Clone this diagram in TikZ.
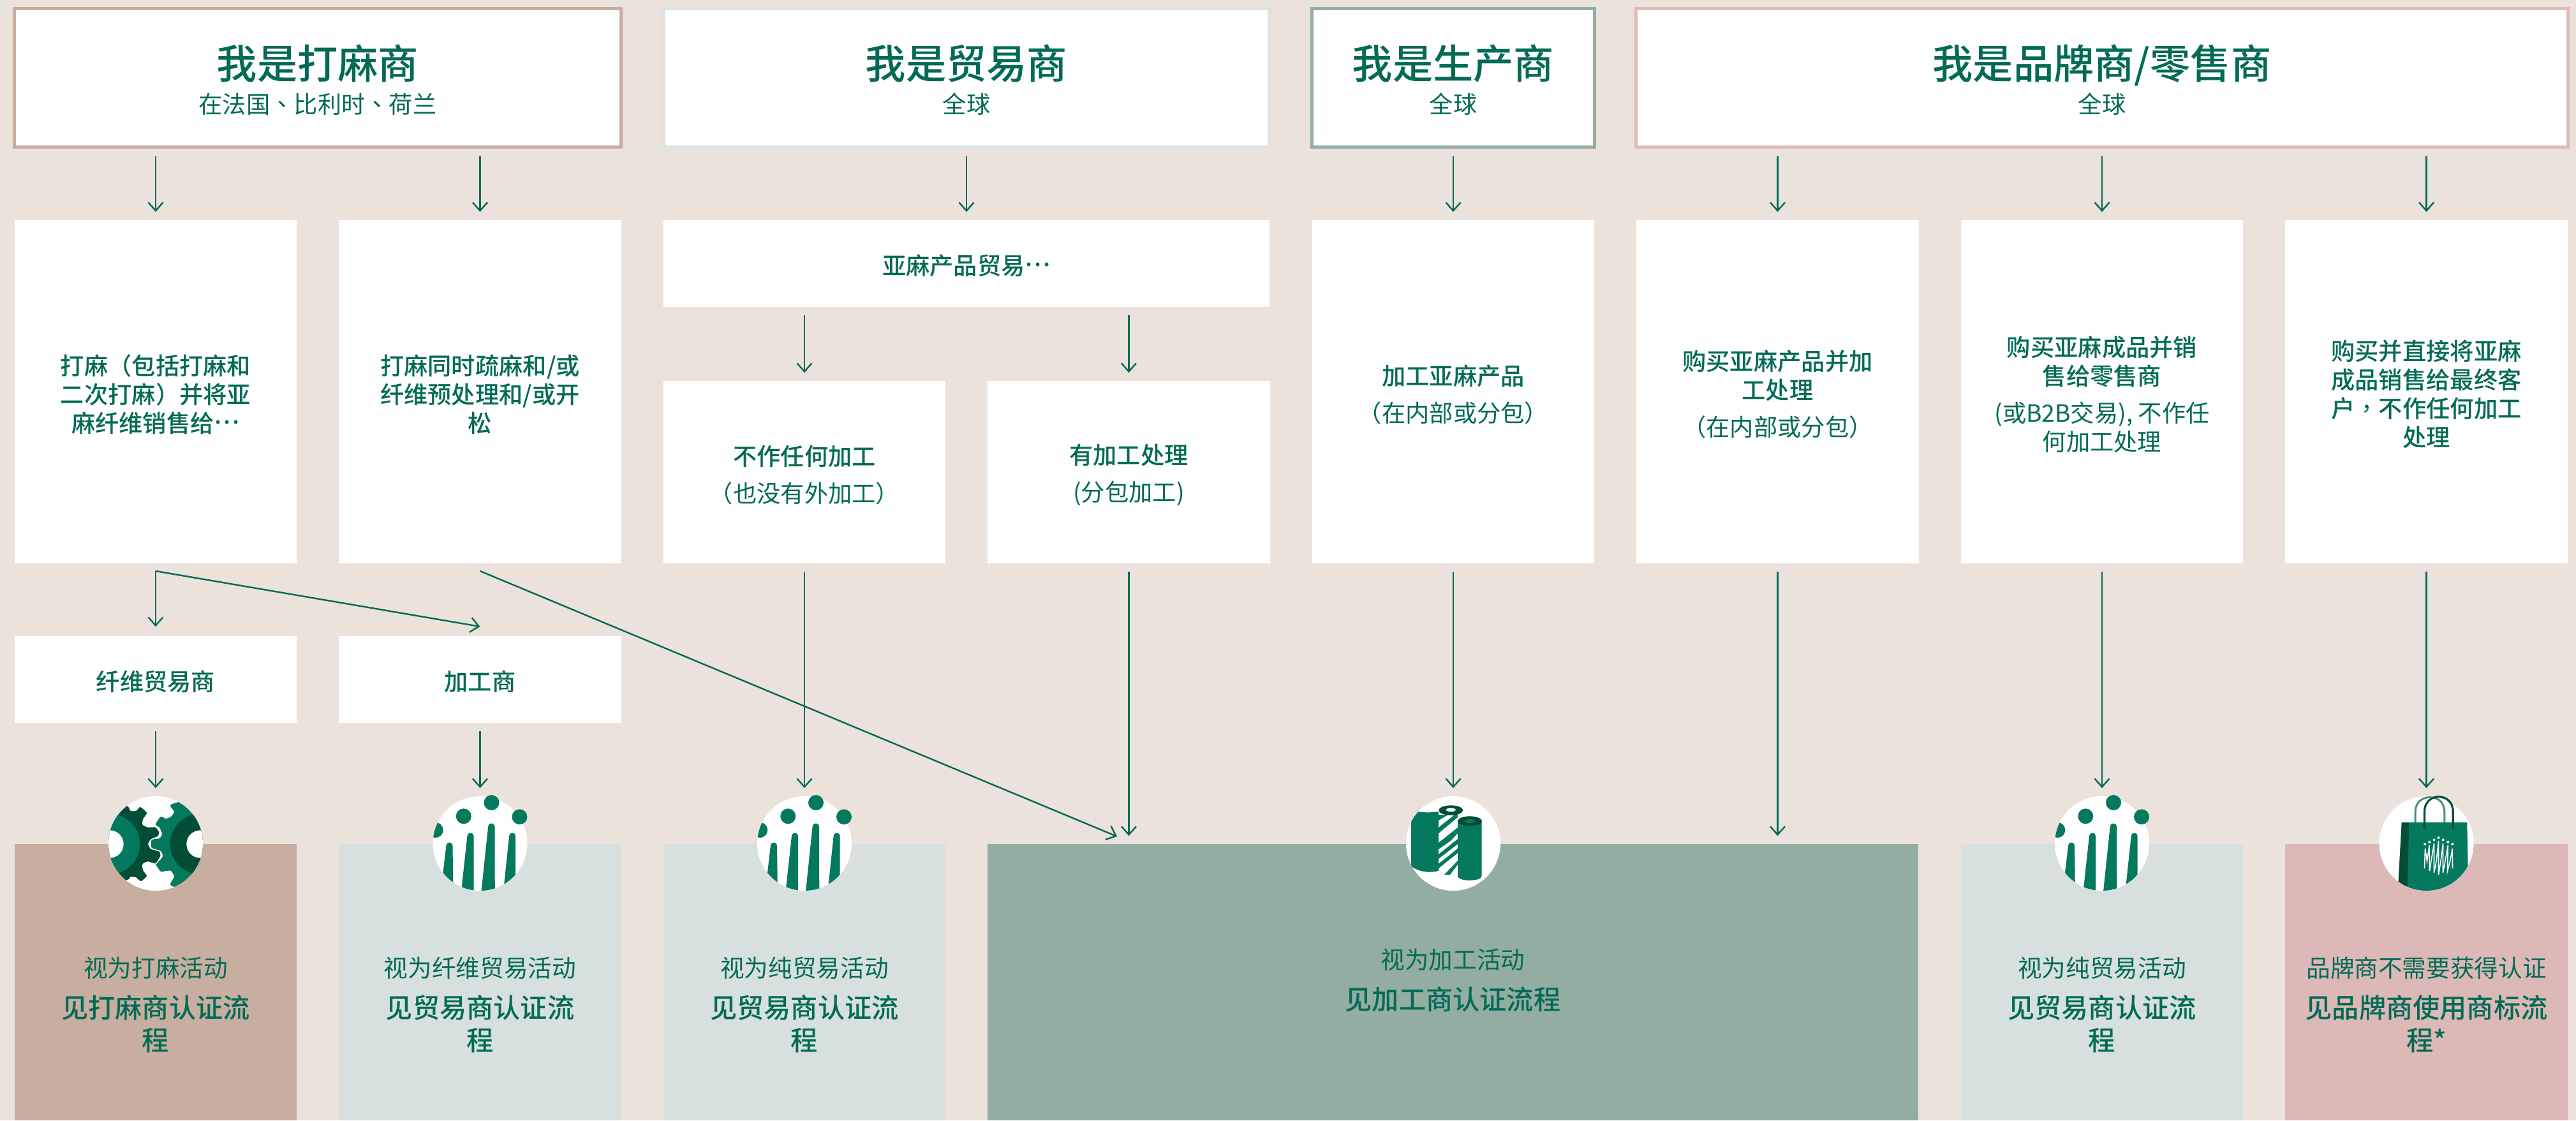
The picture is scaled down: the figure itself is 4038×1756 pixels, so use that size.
\documentclass[tikz,border=0pt]{standalone}
\usepackage{fontspec}
\usepackage{tikz}
\usetikzlibrary{arrows.meta}

\newfontfamily\cjkreg{Noto Sans CJK SC}
\newfontfamily\cjkmed{Noto Sans CJK SC Medium}
\newfontfamily\cjkpun{Noto Sans CJK TC}

\definecolor{pagebg}{HTML}{EBE2DC}
\definecolor{inkgreen}{HTML}{036B55}
\definecolor{icongreen}{HTML}{05795D}
\definecolor{icondark}{HTML}{034C36}
\definecolor{iconsoft}{HTML}{4E8B79}
\definecolor{tanbox}{HTML}{C8AEA0}
\definecolor{palebox}{HTML}{D7E0DE}
\definecolor{midbox}{HTML}{94ADA3}
\definecolor{pinkbox}{HTML}{DCB9B7}
\definecolor{paleline}{HTML}{DDE3E0}
\definecolor{pinkline}{HTML}{DFBAB6}

% text of the boxes
\newcommand{\headtext}[2]{{\cjkmed\fontsize{18}{15.2}\selectfont #1}\\{\cjkreg #2}}
\newcommand{\resulttext}[2]{{\cjkreg\fontsize{10.7}{14.5}\selectfont #1}\\[3.7pt]#2}
\newcommand{\dotsmid}{\raisebox{0.33em}{…}}
\newcommand{\firstline}{\rule{0pt}{11.3pt}}

\tikzset{
	headbox/.style={draw,line width=0.05cm,fill=white,inner sep=0,minimum height=2.17cm},
	headlabel/.style={text=inkgreen,align=center,inner sep=0,font=\cjkreg\fontsize{10.6}{15.2}\selectfont},
	card/.style={fill=white,inner sep=0,minimum width=4.42cm,text=inkgreen,align=center,
		font=\cjkmed\fontsize{10.6}{12.8}\selectfont},
	resultbox/.style={inner sep=0,minimum width=4.42cm,minimum height=4.33cm},
	resultlabel/.style={text=inkgreen,align=center,inner sep=0,font=\cjkmed\fontsize{12}{14.5}\selectfont},
	iconbase/.style={circle,fill=white,inner sep=0,minimum size=1.48cm},
	flow/.style={draw=inkgreen,line width=0.7pt,-{Straight Barb[length=0.13cm,width=0.23cm]}},
	gap/.style={shorten <=0.12cm,shorten >=0.12cm},
	gearicon/.pic={
		\begin{scope}
			\clip (0,0) circle (74);
			\fill[icongreen] plot[smooth cycle,tension=0.4] coordinates {(26,-62) (29,-50) (24,-42) (16,-39) (8,-42) (0,-30) (6,-25) (10,-15) (6,-8) (-6,-6) (-7,1) (-6,7) (8,12) (11,20) (6,27) (0,32) (8,44) (16,43) (24,43) (29,52) (26,67) (100,70) (100,-70)};
			\fill[icondark,draw=white,line width=0.4pt] plot[smooth cycle,tension=0.4] coordinates {(-46,-60) (-39,-52) (-31,-52) (-24,-58) (-13,-48) (-19,-38) (-20,-30) (-12,-26) (0,-26) (6,-18) (4,-11) (-7,-6) (-11,1) (-7,8) (6,12) (8,20) (0,32) (-12,29) (-20,33) (-19,42) (-13,51) (-23,60) (-31,54) (-39,53) (-45,58) (-100,70) (-100,-70)};
			\fill[icongreen] (-72,1) circle (47.3);
			\fill[icondark] (70,1) circle (47.3);
			\fill[white] (-72,1) circle (21.7) (70,1) circle (21.7);
		\end{scope}
	},
	peopleicon/.pic={
		\fill[icongreen] (18,-64) circle (12) (-25.7,-42.7) circle (12) (62,-41.7) circle (12);
		\begin{scope}
			\clip (0,0) circle (74);
			\fill[icongreen] (-69.7,-21) circle (12);
			\fill[icongreen] (-53,3) .. controls (-53,-3) and (-43,-3) .. (-43,3) -- (-42,80) -- (-62,80) -- cycle;
			\fill[icongreen] (-20,-12) .. controls (-20,-18) and (-10,-18) .. (-10,-12) -- (-10,80) -- (-30,80) -- cycle;
			\fill[icongreen] (12.7,-27) .. controls (12.7,-33) and (23,-33) .. (23,-27) -- (23.3,80) -- (1.5,80) -- cycle;
			\fill[icongreen] (45.7,-12) .. controls (45.7,-18) and (55.7,-18) .. (55.7,-12) -- (55.7,80) -- (36,80) -- cycle;
		\end{scope}
	},
	rollicon/.pic={
		\begin{scope}
			\clip (0,0) circle (74);
			\fill[icongreen] (-66,-52) .. controls (-50,-48) and (-36,-48) .. (-23,-50) -- (-23,43) .. controls (-36,46) and (-50,46) .. (-66,36) -- cycle;
		\end{scope}
		\begin{scope}
			\clip (-23,-52) -- (15,-52) -- (15,49) -- (-23,49) -- cycle;
			\fill[icongreen] (-23,-45) -- (-8,-45) -- (-23,-36) -- cycle;
			\fill[icongreen] (-23,-25) -- (7,-49) -- (7,-41) -- (-23,-16) -- cycle;
			\fill[icongreen] (-23,-1) -- (7,-25) -- (7,-16) -- (-3,-5) -- (-23,9) -- cycle;
			\fill[icongreen] (-23,17) -- (7,-7) -- (7,1) -- (-23,24) -- cycle;
			\fill[icongreen] (-23,32) -- (7,8) -- (7,15) -- (-23,39) -- cycle;
			\fill[icongreen] (-14,49) -- (7,27) -- (7,33) -- (-5,49) -- cycle;
		\end{scope}
		\fill[icondark,even odd rule] (-3.7,-52) ellipse (19 and 7.7) (-3.7,-52.7) ellipse (7.7 and 3);
		\fill[icongreen] (7,-35) -- (44.7,-35) -- (44.7,51) .. controls (44.7,60) and (7,60) .. (7,51) -- cycle;
		\fill[icondark] (26,-35) ellipse (19 and 7.7);
		\fill[icongreen] (26,-35) ellipse (7.7 and 3);
	},
	bagicon/.pic={
		\begin{scope}
			\clip (0,0) circle (74);
			\draw[iconsoft,line width=0.85pt] (-17.3,-33) -- (-17.3,-50) .. controls (-17.3,-80) and (28.3,-80) .. (28.3,-50) -- (28.3,-33);
			\fill[icongreen] (-38.7,-33) -- (63.7,-33) -- (66,75) -- (-45,75) -- cycle;
			\fill[icondark] (-38.7,-33) -- (-27.3,-33) -- (-30,75) -- (-44.5,75) -- cycle;
		\end{scope}
		\draw[icondark,line width=0.9pt,line cap=round] (-3,-24) -- (-3,-50) .. controls (-3,-81) and (41.7,-81) .. (41.7,-50) -- (41.7,-24);
		\fill[white] (-2.3,1) circle (2) (4.7,-2.3) circle (2) (12,-5.7) circle (2) (19,-9) circle (2) (26.3,-5.7) circle (2) (33.7,-2.3) circle (2) (40.7,1) circle (2);
		\draw[white,line width=0.45pt] (-3,39) -- (-2,8) -- (1,28) -- (4.5,3) -- (5,43) -- (8,24) -- (12,0) -- (12,46) -- (15.5,28) -- (19,-4) -- (19,49) -- (22.5,28) -- (26,0) -- (26,46) -- (30,24) -- (33.7,3) -- (33,43) -- (37,28) -- (40.7,8) -- (41,39);
	}
}

\begin{document}
\begin{tikzpicture}[x=0.01cm,y=-0.01cm]
		\useasboundingbox (0,0) rectangle (4038,1756);
		\fill[pagebg] (0,0) rectangle (4038,1756);

		%Headers
		\node [headbox,draw=tanbox,minimum width=9.51cm] (head1) at (498,122) {};
		\node [headbox,draw=paleline,minimum width=9.48cm] (head2) at (1515,122) {};
		\node [headbox,draw=midbox,minimum width=4.42cm] (head3) at (2278,122) {};
		\node [headbox,draw=pinkline,minimum width=14.61cm] (head4) at (3295,122) {};
		\node [headlabel] (headtext1) at (498,125) {\headtext{我是打麻商}{在法国{\cjkpun 、}比利时{\cjkpun 、}荷兰}};
		\node [headlabel] (headtext2) at (1515,125) {\headtext{我是贸易商}{全球}};
		\node [headlabel] (headtext3) at (2278,125) {\headtext{我是生产商}{全球}};
		\node [headlabel] (headtext4) at (3295,125) {\headtext{我是品牌商/零售商}{全球}};

		%Boxes
		\node [card,minimum height=5.38cm] (box1) at (244,614) {\firstline 打麻（包括打麻和\\二次打麻）并将亚\\麻纤维销售给\dotsmid};
		\node [card,minimum height=5.38cm] (box2) at (752.5,614) {\firstline 打麻同时疏麻和/或\\纤维预处理和/或开\\松};
		\node [card,minimum width=9.5cm,minimum height=1.36cm] (trade) at (1515,413) {\rule{0pt}{10.7pt}亚麻产品贸易\dotsmid};
		\node [card,minimum height=2.86cm] (box3) at (1261,740) {\firstline 不作任何加工\\[3.7pt]{\cjkreg （也没有外加工）}};
		\node [card,minimum height=2.86cm] (box4) at (1769.5,740) {\firstline 有加工处理\\[3.7pt]{\cjkreg (分包加工)}};
		\node [card,minimum height=5.38cm] (box5) at (2278,614) {\firstline 加工亚麻产品\\[3.7pt]{\cjkreg （在内部或分包）}};
		\node [card,minimum height=5.38cm] (box6) at (2786.5,614) {\firstline 购买亚麻产品并加\\工处理\\[3.7pt]{\cjkreg （在内部或分包）}};
		\node [card,minimum height=5.38cm] (box7) at (3295,614) {\firstline 购买亚麻成品并销\\售给零售商\\[3.7pt]{\cjkreg (或B2B交易), 不作任}\\{\cjkreg 何加工处理}};
		\node [card,minimum height=5.38cm] (box8) at (3803.5,614) {\firstline 购买并直接将亚麻\\成品销售给最终客\\户{\cjkpun ，}不作任何加工\\处理};
		\node [card,minimum height=1.36cm] (trader) at (244,1065) {\rule{0pt}{10.7pt}纤维贸易商};
		\node [card,minimum height=1.36cm] (maker) at (752.5,1065) {\rule{0pt}{10.7pt}加工商};

		%Results
		\node [resultbox,fill=tanbox] (res1) at (244,1539.5) {};
		\node [resultbox,fill=palebox] (res2) at (752.5,1539.5) {};
		\node [resultbox,fill=palebox] (res3) at (1261,1539.5) {};
		\node [resultbox,fill=midbox,minimum width=14.59cm] (res4) at (2277.5,1539.5) {};
		\node [resultbox,fill=palebox] (res5) at (3295,1539.5) {};
		\node [resultbox,fill=pinkbox] (res6) at (3803.5,1539.5) {};
		\node [resultlabel] (restext1) at (244,1575) {\resulttext{视为打麻活动}{见打麻商认证流\\程}};
		\node [resultlabel] (restext2) at (752.5,1575) {\resulttext{视为纤维贸易活动}{见贸易商认证流\\程}};
		\node [resultlabel] (restext3) at (1261,1575) {\resulttext{视为纯贸易活动}{见贸易商认证流\\程}};
		\node [resultlabel] (restext4) at (2277.5,1536) {\resulttext{视为加工活动}{见加工商认证流程}};
		\node [resultlabel] (restext5) at (3295,1575) {\resulttext{视为纯贸易活动}{见贸易商认证流\\程}};
		\node [resultlabel] (restext6) at (3803.5,1575) {\resulttext{品牌商不需要获得认证}{见品牌商使用商标流\\程*}};

		%Icons
		\node [iconbase] (icon1) at (244,1322) {};
		\node [iconbase] (icon2) at (752.5,1322) {};
		\node [iconbase] (icon3) at (1261,1322) {};
		\node [iconbase] (icon4) at (2278,1322) {};
		\node [iconbase] (icon5) at (3295,1322) {};
		\node [iconbase] (icon6) at (3803.5,1322) {};
		\pic at (icon1) {gearicon};
		\pic at (icon2) {peopleicon};
		\pic at (icon3) {peopleicon};
		\pic at (icon4) {rollicon};
		\pic at (icon5) {peopleicon};
		\pic at (icon6) {bagicon};

		%Arrows
		\coordinate (out1) at (244,895);
		\coordinate (out2) at (752.5,895);
		\coordinate (in2) at (752.5,982);
		\coordinate (in4) at (1751,1311);
		\draw[flow,gap] (box1 |- head1.south) -- (box1.north);
		\draw[flow,gap] (box2 |- head1.south) -- (box2.north);
		\draw[flow,gap] (trade |- head2.south) -- (trade.north);
		\draw[flow,gap] (box5 |- head3.south) -- (box5.north);
		\draw[flow,gap] (box6 |- head4.south) -- (box6.north);
		\draw[flow,gap] (box7 |- head4.south) -- (box7.north);
		\draw[flow,gap] (box8 |- head4.south) -- (box8.north);
		\draw[flow,gap] (box3 |- trade.south) -- (box3.north);
		\draw[flow,gap] (box4 |- trade.south) -- (box4.north);
		\draw[flow] (out1) -- (in2);
		\draw[flow] (out2) -- (in4);
		\draw[flow,shorten >=0.14cm] (out1) -- (trader.north);
		\draw[flow,gap] (trader.south) -- (icon1.north);
		\draw[flow,gap] (maker.south) -- (icon2.north);
		\draw[flow,gap] (box3.south) -- (icon3.north);
		\draw[flow,gap] (box4.south) -- (box4.south |- res4.north);
		\draw[flow,gap] (box5.south) -- (icon4.north);
		\draw[flow,gap] (box6.south) -- (box6.south |- res4.north);
		\draw[flow,gap] (box7.south) -- (icon5.north);
		\draw[flow,gap] (box8.south) -- (icon6.north);
\end{tikzpicture}
\end{document}
